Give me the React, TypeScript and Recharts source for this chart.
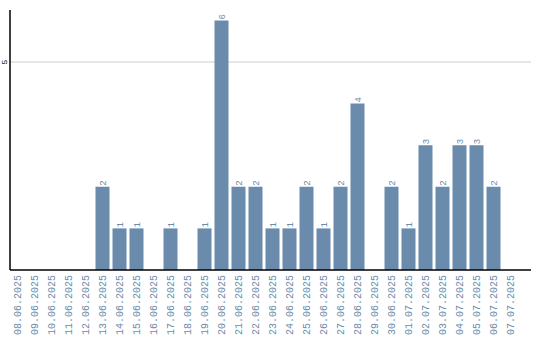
import { BarChart, Bar, XAxis, YAxis, CartesianGrid, LabelList } from "recharts";

const days = [
  "08.06.2025", "09.06.2025", "10.06.2025", "11.06.2025", "12.06.2025",
  "13.06.2025", "14.06.2025", "15.06.2025", "16.06.2025", "17.06.2025",
  "18.06.2025", "19.06.2025", "20.06.2025", "21.06.2025", "22.06.2025",
  "23.06.2025", "24.06.2025", "25.06.2025", "26.06.2025", "27.06.2025",
  "28.06.2025", "29.06.2025", "30.06.2025", "01.07.2025", "02.07.2025",
  "03.07.2025", "04.07.2025", "05.07.2025", "06.07.2025", "07.07.2025",
];

const counts = [
  0, 0, 0, 0, 0,
  2, 1, 1, 0, 1,
  0, 1, 6, 2, 2,
  1, 1, 2, 1, 2,
  4, 0, 2, 1, 3,
  2, 3, 3, 2, 0,
];

const yTicks = [5];

const BLUE = "#6a8bab";
const FONT = "Liberation Mono, monospace";

const data = days.map((d, i) => ({ day: d, count: counts[i] }));

function DayTick(props: any) {
  const { x, y, payload } = props;
  return (
    <text
      transform={`translate(${x + 3.5},${y - 3}) rotate(-90)`}
      textAnchor="end"
      fill={BLUE}
      fontSize={10}
      fontFamily={FONT}
    >
      {payload.value}
    </text>
  );
}

function ValueTick(props: any) {
  const { y, payload } = props;
  return (
    <text
      transform={`translate(7,${y}) rotate(-90)`}
      textAnchor="middle"
      fill="#000"
      fontSize={8}
      fontFamily={FONT}
    >
      {payload.value}
    </text>
  );
}

function BarValue(props: any) {
  const { x, y, width, value } = props;
  if (!value) return null;
  return (
    <text
      transform={`translate(${x + width / 2 + 3},${y - 1}) rotate(-90)`}
      textAnchor="start"
      fill={BLUE}
      fontSize={9}
      fontFamily={FONT}
    >
      {value}
    </text>
  );
}

export default function App() {
  return (
    <div style={{ position: "absolute", left: 0, top: 0, background: "#fff" }}>
      <BarChart width={540} height={340} data={data} margin={{ top: 10, right: 9, left: 0, bottom: 0 }}>
        <CartesianGrid vertical={false} horizontalValues={yTicks} stroke="#cccccc" />
        <XAxis
          dataKey="day"
          interval={0}
          height={70}
          padding={{ left: -1.5, right: 12.5 }}
          tickLine={false}
          axisLine={{ stroke: "#000", strokeWidth: 1.5 }}
          tick={<DayTick />}
        />
        <YAxis
          width={10}
          domain={[0, 6.25]}
          ticks={yTicks}
          tickLine={false}
          axisLine={{ stroke: "#000", strokeWidth: 1.5 }}
          tick={<ValueTick />}
        />
        <Bar dataKey="count" fill={BLUE} barSize={14} isAnimationActive={false}>
          <LabelList dataKey="count" content={<BarValue />} />
        </Bar>
      </BarChart>
    </div>
  );
}
